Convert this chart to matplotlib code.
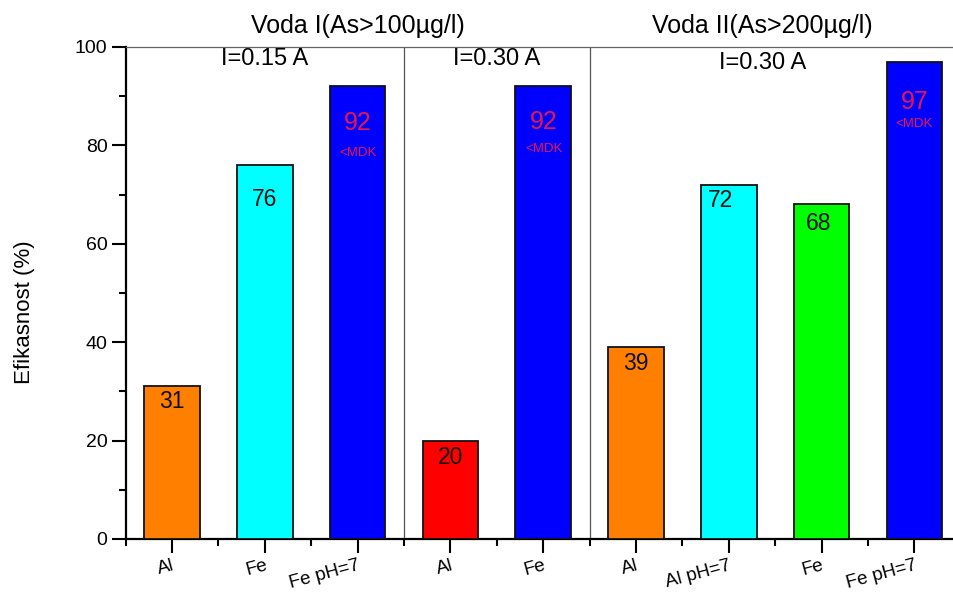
import matplotlib
matplotlib.use("Agg")
import matplotlib.pyplot as plt
from matplotlib.ticker import FixedLocator, MultipleLocator

plt.rcParams['font.family'] = ['Liberation Sans', 'DejaVu Sans']

# Data
categories = ["Al", "Fe", "Fe pH=7", "Al", "Fe", "Al", "Al pH=7", "Fe", "Fe pH=7"]
efficiency = [31, 76, 92, 20, 92, 39, 72, 68, 97]
below_mdk = [False, False, True, False, True, False, False, False, True]
bar_colors = ["#ff8000", "#00ffff", "#0000ff", "#ff0000", "#0000ff",
              "#ff8000", "#00ffff", "#00ff00", "#0000ff"]
group_titles = ["Voda I(As>100µg/l)", "Voda II(As>200µg/l)"]
current_labels = ["I=0.15 A", "I=0.30 A", "I=0.30 A"]

# Label placement (baseline drop below the bar top, horizontal shift)
label_drop = [4.4, 8.3, 8.9, 4.8, 8.7, 4.7, 4.5, 5.2, 9.6]
label_shift = [0.0, 0.0, 0.0, 0.0, 0.01, 0.0, -0.09, -0.03, 0.0]
mdk_drop = [0, 0, 14.2, 0, 13.3, 0, 0, 0, 13.3]

fig = plt.figure(figsize=(9.54, 5.94), dpi=100)
ax = fig.add_axes([0.1317, 0.0926, 0.8754, 0.8283])

x = list(range(len(categories)))
ax.bar(x, efficiency, width=0.6, color=bar_colors, edgecolor="#111111",
       linewidth=1.3, zorder=3)

ax.set_xlim(-0.5, 8.5)
ax.set_ylim(0, 100)

# Separators between current/water groups
for xs in (2.5, 4.5):
    ax.axvline(xs, color="#555555", linewidth=0.9, zorder=2)

# Spines
ax.spines['left'].set_linewidth(1.6)
ax.spines['bottom'].set_linewidth(1.6)
ax.spines['top'].set_color("#666666")
ax.spines['top'].set_linewidth(0.9)
ax.spines['right'].set_visible(False)

# Ticks
ax.set_xticks(x)
ax.xaxis.set_minor_locator(FixedLocator([i - 0.5 for i in range(len(categories) + 1)]))
ax.yaxis.set_major_locator(MultipleLocator(20))
ax.yaxis.set_minor_locator(MultipleLocator(10))
ax.tick_params(axis='both', which='major', direction='out', length=10, width=1.5,
               labelsize=14, top=False, right=False)
ax.tick_params(axis='both', which='minor', direction='out', length=5, width=1.5,
               top=False, right=False)
ax.tick_params(axis='x', which='major', pad=3, labelsize=13.5)
ax.tick_params(axis='y', which='major', pad=3)
ax.set_xticklabels(categories, rotation=15, ha='right', va='top',
                   rotation_mode='anchor')

# Y axis title
fig.text(25 / 954, (594 - 312) / 594, "Efikasnost (%)", rotation=90,
         ha='center', va='center', fontsize=16)

# Value labels inside the bars
for i, v in enumerate(efficiency):
    if below_mdk[i]:
        ax.text(i + label_shift[i], v - label_drop[i], f"{v}", ha='center',
                va='baseline', fontsize=18, color="#e8174a", zorder=4)
        ax.text(i + label_shift[i], v - mdk_drop[i], "<MDK", ha='center',
                va='baseline', fontsize=9.5, color="#e8174a", zorder=4)
    else:
        ax.text(i + label_shift[i], v - label_drop[i], f"{v}", ha='center',
                va='baseline', fontsize=16.5, color="#111111", zorder=4)

# Group headers above the plot
ax.text(2.0, 102.9, group_titles[0], ha='center', va='baseline',
        fontsize=18, clip_on=False)
ax.text(6.36, 102.9, group_titles[1], ha='center', va='baseline',
        fontsize=18, clip_on=False)

# Current settings inside the plot
ax.text(1.0, 96.3, current_labels[0], ha='center', va='baseline', fontsize=17)
ax.text(3.5, 96.3, current_labels[1], ha='center', va='baseline', fontsize=17)
ax.text(6.36, 95.5, current_labels[2], ha='center', va='baseline', fontsize=17)

fig.savefig("out.png", dpi=100)
